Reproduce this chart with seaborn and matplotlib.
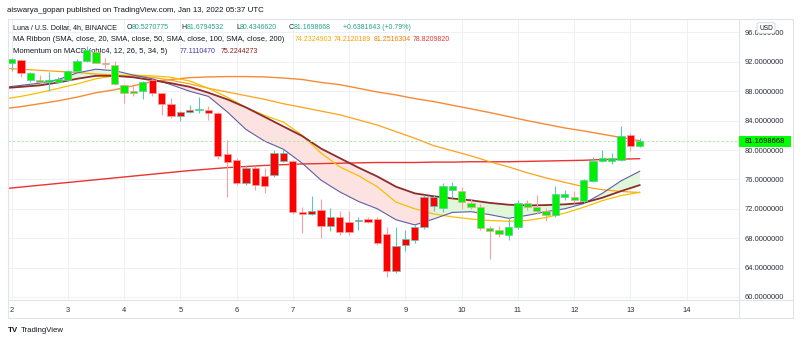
import numpy as np
import pandas as pd
import matplotlib
matplotlib.use("Agg")
import matplotlib.pyplot as plt
import seaborn as sns
from matplotlib.patches import Rectangle, FancyBboxPatch
from matplotlib.lines import Line2D

# ---------------- data (4h candles, Jan 2 00:00 onward) ----------------
candle_open = [91.8, 92.3, 89.5, 89.3, 89.25, 89.3, 89.5, 90.7, 92.1, 91.9,
               91.65, 89.0, 87.7, 87.7, 88.05, 89.5, 87.7, 86.3, 85.2, 85.4,
               85.45, 85.5, 85.1, 79.4, 78.6, 77.6, 77.6, 76.4, 79.65, 79.65,
               78.5, 71.55, 71.7, 71.8, 70.9, 70.9, 70.25, 70.45, 70.55, 70.55,
               68.6, 66.9, 67.9, 69.5, 73.6, 73.6, 72.1, 74.55, 72.9, 72.3,
               69.35, 69.0, 68.5, 68.4, 69.5, 72.25, 71.7, 71.1, 71.1, 73.55,
               73.2, 73.0, 75.8, 78.55, 78.55, 78.7, 82.05, 80.5270775]
candle_high = [92.5, 92.4, 90.6, 90.2, 90.6, 89.9, 90.9, 92.4, 94.1, 93.6,
               92.5, 92.1, 89.0, 88.8, 89.4, 89.6, 87.8, 87.1, 85.3, 86.1,
               87.2, 86.0, 85.2, 81.3, 78.9, 77.9, 77.8, 77.5, 80.0, 80.2,
               78.6, 72.3, 73.75, 73.3, 72.05, 71.7, 71.75, 70.9, 70.9, 70.9,
               69.5, 69.5, 69.1, 69.8, 73.9, 73.9, 75.46, 75.7, 74.9, 73.3,
               72.6, 69.7, 69.66, 70.7, 73.2, 73.2, 73.85, 72.1, 75.1, 74.5,
               74.45, 76.0, 79.1, 80.0, 79.55, 83.2, 82.3, 81.6794532]
candle_low = [90.8, 89.96, 89.3, 89.1, 88.0, 89.1, 89.4, 90.6, 92.0, 91.8,
              91.1, 88.9, 86.4, 87.3, 87.0, 87.3, 84.7, 84.4, 83.9, 85.0,
              85.0, 84.1, 78.8, 73.6, 75.3, 75.2, 74.5, 74.2, 76.3, 78.4,
              71.25, 68.75, 71.1, 68.0, 69.0, 68.4, 68.4, 69.1, 70.0, 67.0,
              62.7, 63.2, 66.2, 67.4, 69.3, 71.7, 71.5, 73.4, 72.0, 71.9,
              69.1, 65.2, 68.2, 67.8, 69.2, 71.8, 71.3, 70.4, 70.9, 73.2,
              72.85, 72.8, 75.6, 78.3, 78.1, 78.5, 79.8, 80.4346620]
candle_close = [92.4, 90.55, 90.55, 89.5, 89.55, 89.65, 90.7, 92.1, 93.6, 93.3,
                91.85, 91.6, 88.8, 88.05, 89.3, 87.7, 86.3, 84.6, 84.6, 85.2,
                85.55, 85.1, 79.2, 78.4, 75.5, 75.5, 75.2, 75.1, 76.55, 78.5,
                71.6, 71.35, 71.35, 69.65, 69.7, 68.9, 68.8, 70.35, 70.25, 67.4,
                63.5, 63.5, 67.0, 67.8, 69.5, 72.4, 75.1, 75.1, 74.45, 72.85,
                72.2, 69.35, 69.1, 69.5, 72.85, 72.8, 72.25, 71.7, 74.0, 74.0,
                73.55, 75.9, 78.55, 78.9, 78.9, 81.95, 80.5317025, 81.1698668]

day_labels = ["2", "3", "4", "5", "6", "7", "8", "9", "10", "11", "12", "13", "14"]
price_ticks = [60, 64, 68, 72, 76, 80, 84, 88, 92, 96]

# indicator samples, every second candle (candle index)
ma_idx = [-1, 1, 3, 5, 7, 9, 11, 13, 15, 17, 19, 21, 23, 25, 27, 29, 31, 33,
          35, 37, 39, 41, 43, 45, 47, 49, 51, 53, 55, 57, 59, 61, 63, 65, 67]
sma20 = [86.9, 87.3, 87.8, 88.4, 89.0, 89.7, 90.1, 90.2, 90.1, 89.9, 89.4, 88.4,
         87.2, 85.8, 84.7, 83.8, 82.0, 79.6, 77.7, 76.5, 75.0, 72.9, 72.0, 71.3,
         70.9, 70.6, 70.4, 70.3, 70.4, 70.8, 71.4, 72.2, 73.1, 73.8, 74.2324903]
sma50 = [91.15, 91.0, 90.85, 90.7, 90.55, 90.35, 90.2, 90.1, 89.9, 89.5, 89.0,
         88.4, 87.9, 87.4, 86.9, 86.3, 85.8, 85.3, 84.8, 84.1, 83.4, 82.5, 81.6,
         80.6, 79.9, 79.2, 78.4, 77.7, 76.9, 76.2, 75.6, 75.0, 74.6, 74.35, 74.2120189]
sma100 = [85.6, 85.9, 86.3, 86.7, 87.2, 87.8, 88.2, 88.75, 89.3, 89.6, 89.85,
          89.95, 90.0, 90.0, 89.95, 89.8, 89.6, 89.2, 88.9, 88.4, 87.9, 87.5,
          87.0, 86.6, 86.1, 85.6, 85.1, 84.55, 84.0, 83.5, 83.0, 82.6, 82.15,
          81.7, 81.2516304]
sma200 = [74.7, 74.95, 75.2, 75.45, 75.7, 75.95, 76.2, 76.45, 76.7, 76.95, 77.2,
          77.4, 77.6, 77.75, 77.9, 78.0, 78.1, 78.15, 78.2, 78.25, 78.3, 78.3,
          78.3, 78.35, 78.35, 78.4, 78.4, 78.4, 78.45, 78.5, 78.55, 78.6, 78.7,
          78.75, 78.8209820]
mom_fast = [88.5, 88.8, 89.1, 89.6, 90.5, 91.0, 90.8, 90.2, 89.7, 88.9, 88.0,
            87.3, 85.2, 82.8, 81.2, 80.1, 78.2, 75.9, 74.3, 73.0, 72.0, 70.5,
            69.8, 70.6, 71.5, 71.6, 71.2, 70.7, 71.1, 71.6, 72.0, 72.7, 74.1,
            75.8, 77.1110470]
mom_slow = [88.4, 88.6, 88.8, 89.2, 89.7, 90.1, 90.1, 89.9, 89.5, 89.1, 88.6,
            87.8, 86.9, 85.8, 84.5, 83.2, 81.9, 80.2, 78.9, 77.6, 76.4, 75.0,
            74.1, 73.7, 73.4, 73.15, 72.8, 72.55, 72.45, 72.5, 72.6, 72.8, 73.5,
            74.4, 75.2244273]
mom_bearish = [False, False, False, False, False, False, False, False, True, True,
               True, True, True, True, True, True, True, True, True, True, True,
               True, True, False, False, False, False, False, False, False, False,
               False, False, False, False]

# ---------------- figure ----------------
sns.set_theme(style="white")
plt.rcParams['font.family'] = ['Liberation Sans', 'DejaVu Sans']

W, H = 800, 343
fig = plt.figure(figsize=(W / 100, H / 100), dpi=100)
fig.patch.set_facecolor("white")

def fx(px):
    return px / W

def fy(py):
    return 1 - py / H

L_PX, R_PX, T_PX, B_PX = 7.5, 738.7, 18.5, 300.0
ax = fig.add_axes([fx(L_PX), fy(B_PX), (R_PX - L_PX) / W, (B_PX - T_PX) / H])
ax.set_facecolor("white")

px_per_unit = 7.344
ax.set_ylim(80 - (B_PX - 150) / px_per_unit, 80 + (150 - T_PX) / px_per_unit)
px_per_candle = 9.378
ax.set_xlim((L_PX - 11.5) / px_per_candle, (R_PX - 11.5) / px_per_candle)

for s in ax.spines.values():
    s.set_visible(False)

ax.set_yticks(price_ticks)
ax.set_yticklabels([f"{v:.7f}" for v in price_ticks])
ax.yaxis.tick_right()
ax.set_xticks([6 * k for k in range(len(day_labels))])
ax.set_xticklabels(day_labels)
ax.tick_params(axis="y", length=0, pad=4.5, labelsize=5.4, labelcolor="#2a2e39")
ax.tick_params(axis="x", length=0, pad=4.7, labelsize=5.4, labelcolor="#2a2e39")
ax.grid(True, color="#eef0f4", lw=0.7)
ax.set_axisbelow(True)

# ribbon fill
idx_ma = np.array(ma_idx)
fast = np.array(mom_fast)
slow = np.array(mom_slow)
bear = np.array(mom_bearish)
pink_mask = bear | np.concatenate([[False], bear[:-1]])
green_mask = (~bear) | np.concatenate([[False], ~bear[:-1]])
ax.fill_between(idx_ma, fast, slow, where=pink_mask, color="#fde2e2", lw=0, zorder=1)
ax.fill_between(idx_ma, fast, slow, where=green_mask, color="#e0f7da", lw=0, zorder=1)

line_specs = [
    (sma200, "#e8352f", 1.0),
    (sma100, "#f68a36", 1.0),
    (sma50, "#ffa11a", 0.9),
    (sma20, "#f5c000", 0.9),
    (mom_fast, "#5f5ea8", 0.8),
    (mom_slow, "#8e2b2b", 1.3),
]
for vals, col, lw in line_specs:
    sns.lineplot(x=ma_idx, y=vals, ax=ax, color=col, lw=lw, sort=False,
                 estimator=None, legend=False, zorder=2)

# current price dashed line
last_close = candle_close[-1]
ax.axhline(last_close, color="#a8eea2", lw=0.7, ls=(0, (2.5, 2)), zorder=2.5)

# candles
idx = np.arange(len(candle_open))
o = np.array(candle_open)
h = np.array(candle_high)
lo = np.array(candle_low)
c = np.array(candle_close)
prev_c = np.concatenate([[o[0]], c[:-1]])
wick_cols = np.where(c >= prev_c, "#5ec7b7", "#f4a3a3")
body_cols = np.where(c >= o, "#00f000", "#ff0000")
ax.vlines(idx, lo, h, colors=wick_cols, lw=0.8, zorder=3)
heights = np.maximum(np.abs(c - o), 0.06)
ax.bar(idx, heights, bottom=np.minimum(o, c), width=0.78, color=body_cols,
       edgecolor=wick_cols, linewidth=0.5, zorder=4)

ax.set_xlabel("")
ax.set_ylabel("")

# ---------------- frame lines ----------------
fcol = "#e0e3eb"
for (x0, y0, x1, y1) in [(L_PX, T_PX, 792.7, T_PX), (L_PX, T_PX, L_PX, 318.3),
                         (792.7, T_PX, 792.7, 318.3), (L_PX, 318.3, 792.7, 318.3),
                         (R_PX, T_PX, R_PX, 318.3), (L_PX, B_PX, 792.7, B_PX)]:
    fig.add_artist(Line2D([fx(x0), fx(x1)], [fy(y0), fy(y1)], color=fcol, lw=0.8))

# price label box
fig.add_artist(Rectangle((fx(738.7), fy(146.7)), (790.7 - 738.7) / W, 11 / H,
                         facecolor="#00ff00", edgecolor="none", zorder=5))
fig.text(fx(764.7), fy(141.4), f"{last_close:.7f}", ha="center", va="center",
         fontsize=5.4, color="#000000", zorder=6)

# USD box
fig.add_artist(FancyBboxPatch((fx(757), fy(33.3)), 18 / W, 10.6 / H,
                              boxstyle="round,pad=0,rounding_size=0.004",
                              facecolor="white", edgecolor="#d1d4dc", lw=0.6, zorder=5))
fig.text(fx(766), fy(28), "USD", ha="center", va="center", fontsize=4.8,
         color="#131722", zorder=6)

# ---------------- texts ----------------
fig.text(fx(6.7), fy(10), "aiswarya_gopan published on TradingView.com, Jan 13, 2022 05:37 UTC",
         ha="left", va="center", fontsize=5.7, color="#131722")

renderer = fig.canvas.get_renderer()

def chain(x_px, y_px, parts, size=5.0):
    x = x_px
    for txt, col in parts:
        t = ax.text(fx(x), fy(y_px), txt, transform=fig.transFigure, ha="left",
                    va="center", fontsize=size, color=col, zorder=1.5, clip_on=False)
        bb = t.get_window_extent(renderer=renderer)
        x += bb.width

dark = "#131722"
teal = "#22a38a"
chg = candle_close[-1] - candle_close[-2]
pct = chg / candle_close[-2] * 100
chain(12.7, 27.5, [("Luna / U.S. Dollar, 4h, BINANCE", dark)], size=5.1)
chain(126.7, 27.5, [("O", dark), (f"{candle_open[-1]:.7f}", teal)])
chain(181.7, 27.5, [("H", dark), (f"{candle_high[-1]:.7f}", teal)])
chain(236.0, 27.5, [("L", dark), (f"{candle_low[-1]:.7f}", teal)])
chain(289.0, 27.5, [("C", dark), (f"{candle_close[-1]:.7f}", teal)])
chain(343.3, 27.5, [(f"{chg:+.7f} ({pct:+.2f}%)", teal)])

chain(12.7, 39.5, [("MA Ribbon (SMA, close, 20, SMA, close, 50, SMA, close, 100, SMA, close, 200)", dark)], size=5.5)
chain(295.0, 39.5, [(f"{sma20[-1]:.7f}", "#f2ad00")])
chain(333.8, 39.5, [(f"{sma50[-1]:.7f}", "#ff9800")])
chain(373.3, 39.5, [(f"{sma100[-1]:.7f}", "#f57c00")])
chain(412.5, 39.5, [(f"{sma200[-1]:.7f}", "#e53935")])

chain(12.7, 51.7, [("Momentum on MACD (ohlc4, 12, 26, 5, 34, 5)", dark)], size=5.5)
chain(180.0, 51.7, [(f"{mom_fast[-1]:.7f}", "#3a3a9a")])
chain(220.7, 51.7, [(f"{mom_slow[-1]:.7f}", "#8b1f1f")])

# logo
fig.text(fx(8), fy(331), "TV", ha="left", va="center", fontsize=5.8,
         fontweight="bold", color=dark)
fig.text(fx(21), fy(331), "TradingView", ha="left", va="center", fontsize=5.6,
         color=dark)

fig.savefig("out.png", dpi=100, facecolor="white")
